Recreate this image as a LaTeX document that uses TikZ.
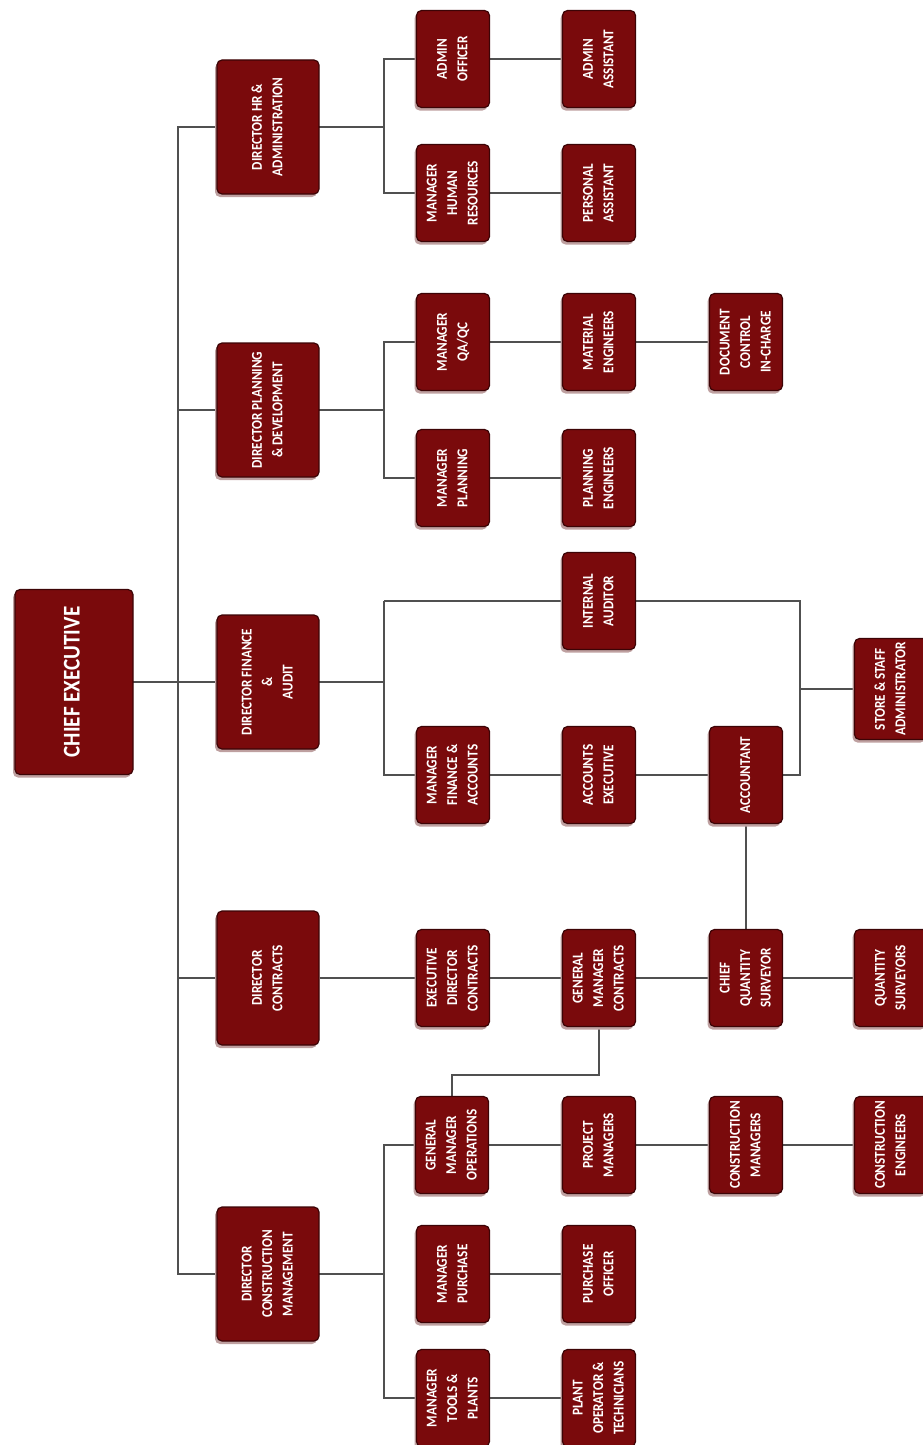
\documentclass[tikz,border=0pt]{standalone}
\usepackage{fontspec}
\usepackage{graphicx}
\setmainfont{Carlito}[FakeStretch=0.88]
\usetikzlibrary{shadows,backgrounds}
\definecolor{maroon}{RGB}{122,10,12}
\definecolor{bord}{RGB}{60,4,6}
\definecolor{shad}{RGB}{190,160,160}
\definecolor{linec}{RGB}{80,80,80}
\newcommand{\rt}[1]{\rotatebox{90}{\begin{tabular}{@{}c@{}}#1\end{tabular}}}
\tikzset{
  box/.style={draw=bord, fill=maroon, rounded corners=5pt, line width=1.2pt,
    inner sep=0pt, minimum width=73pt, minimum height=97pt, text=white,
    font=\bfseries\fontsize{15}{20.5}\selectfont,
    drop shadow={shadow xshift=-2pt, shadow yshift=-3pt, fill=shad, opacity=1}},
  dirbox/.style={box, minimum width=102pt, minimum height=134pt},
  chiefbox/.style={box, minimum width=118pt, minimum height=185pt,
    font=\bfseries\fontsize{24}{28}\selectfont},
  conn/.style={draw=linec, line width=1.8pt}
}
\begin{document}
\begin{tikzpicture}[x=1pt,y=1pt]
\useasboundingbox (0,0) rectangle (922,-1445);
% chief
\node[chiefbox] (chief) at (74,-682) {\rt{CHIEF EXECUTIVE}};
% directors
\node[dirbox] (dirHR) at (268,-127) {\rt{DIRECTOR HR \&\\ADMINISTRATION}};
\node[dirbox] (dirPlan) at (268,-410) {\rt{DIRECTOR PLANNING\\\& DEVELOPMENT}};
\node[dirbox] (dirFin) at (268,-682) {\rt{DIRECTOR FINANCE\\\&\\AUDIT}};
\node[dirbox] (dirCon) at (268,-978) {\rt{DIRECTOR\\CONTRACTS}};
\node[dirbox] (dirCM) at (268,-1274) {\rt{DIRECTOR\\CONSTRUCTION\\MANAGEMENT}};
% HR
\node[box] (adminOff) at (453,-59) {\rt{ADMIN\\OFFICER}};
\node[box] (adminAsst) at (599,-59) {\rt{ADMIN\\ASSISTANT}};
\node[box] (mgrHR) at (453,-193) {\rt{MANAGER\\HUMAN\\RESOURCES}};
\node[box] (persAsst) at (599,-193) {\rt{PERSONAL\\ASSISTANT}};
% planning
\node[box] (mgrQA) at (453,-342) {\rt{MANAGER\\QA/QC}};
\node[box] (matEng) at (599,-342) {\rt{MATERIAL\\ENGINEERS}};
\node[box] (docCtrl) at (746,-342) {\rt{DOCUMENT\\CONTROL\\IN-CHARGE}};
\node[box] (mgrPlan) at (453,-478) {\rt{MANAGER\\PLANNING}};
\node[box] (planEng) at (599,-478) {\rt{PLANNING\\ENGINEERS}};
% finance
\node[box] (intAud) at (599,-601) {\rt{INTERNAL\\AUDITOR}};
\node[box] (mgrFin) at (453,-775) {\rt{MANAGER\\FINANCE \&\\ACCOUNTS}};
\node[box] (accExec) at (599,-775) {\rt{ACCOUNTS\\EXECUTIVE}};
\node[box] (accountant) at (746,-775) {\rt{ACCOUNTANT}};
\node[box, minimum height=101pt] (store) at (891,-689) {\rt{STORE \& STAFF\\ADMINISTRATOR}};
% contracts
\node[box] (execDir) at (453,-978) {\rt{EXECUTIVE\\DIRECTOR\\CONTRACTS}};
\node[box] (gmCon) at (599,-978) {\rt{GENERAL\\MANAGER\\CONTRACTS}};
\node[box] (cqs) at (746,-978) {\rt{CHIEF\\QUANTITY\\SURVEYOR}};
\node[box] (qs) at (891,-978) {\rt{QUANTITY\\SURVEYORS}};
% construction
\node[box] (gmOps) at (452,-1145) {\rt{GENERAL\\MANAGER\\OPERATIONS}};
\node[box] (projMgr) at (599,-1145) {\rt{PROJECT\\MANAGERS}};
\node[box] (conMgr) at (746,-1145) {\rt{CONSTRUCTION\\MANAGERS}};
\node[box] (conEng) at (891,-1145) {\rt{CONSTRUCTION\\ENGINEERS}};
\node[box] (mgrPur) at (453,-1274) {\rt{MANAGER\\PURCHASE}};
\node[box] (purOff) at (599,-1274) {\rt{PURCHASE\\OFFICER}};
\node[box] (mgrTools) at (453,-1398) {\rt{MANAGER\\TOOLS \&\\PLANTS}};
\node[box] (plantOp) at (599,-1398) {\rt{PLANT\\OPERATOR \&\\TECHNICIANS}};
% helper coordinates
\coordinate (sp) at (178,0);
\coordinate (xb) at (384,0);
\coordinate (xr) at (800,0);
\coordinate (jog) at (0,-1075);
\begin{scope}[on background layer]
% spine
\draw[conn] (dirHR.center) -- (dirHR.center -| sp) -- (dirCM.center -| sp) -- (dirCM.center);
\draw[conn] (chief.center) -- (dirFin.center);
\draw[conn] (dirPlan.center) -- (dirPlan.center -| sp);
\draw[conn] (dirCon.center) -- (dirCon.center -| sp);
% HR
\draw[conn] (dirHR.center) -- (dirHR.center -| xb);
\draw[conn] (adminOff.center) -- (adminOff.center -| xb) -- (mgrHR.center -| xb) -- (mgrHR.center);
\draw[conn] (adminOff) -- (adminAsst);
\draw[conn] (mgrHR) -- (persAsst);
% planning
\draw[conn] (dirPlan.center) -- (dirPlan.center -| xb);
\draw[conn] (mgrQA.center) -- (mgrQA.center -| xb) -- (mgrPlan.center -| xb) -- (mgrPlan.center);
\draw[conn] (mgrQA) -- (matEng);
\draw[conn] (matEng) -- (docCtrl);
\draw[conn] (mgrPlan) -- (planEng);
% finance
\draw[conn] (dirFin.center) -- (dirFin.center -| xb);
\draw[conn] (intAud.center -| xb) -- (mgrFin.center -| xb) -- (mgrFin.center);
\draw[conn] (intAud.center -| xb) -- (intAud.center) -- (intAud.center -| xr) -- (accountant.center -| xr) -- (accountant.center);
\draw[conn] (mgrFin) -- (accExec);
\draw[conn] (accExec) -- (accountant);
\draw[conn] (store.center) -- (store.center -| xr);
\draw[conn] (accountant) -- (cqs);
% contracts
\draw[conn] (dirCon) -- (execDir);
\draw[conn] (execDir) -- (gmCon);
\draw[conn] (gmCon) -- (cqs);
\draw[conn] (cqs) -- (qs);
\draw[conn] (gmCon.center) -- (gmCon.center |- jog) -- (gmOps.center |- jog) -- (gmOps.center);
% construction
\draw[conn] (dirCM.center) -- (dirCM.center -| xb);
\draw[conn] (gmOps.center) -- (gmOps.center -| xb) -- (mgrTools.center -| xb) -- (mgrTools.center);
\draw[conn] (gmOps) -- (projMgr);
\draw[conn] (projMgr) -- (conMgr);
\draw[conn] (conMgr) -- (conEng);
\draw[conn] (mgrPur) -- (purOff);
\draw[conn] (mgrTools) -- (plantOp);
\end{scope}
\end{tikzpicture}
\end{document}
